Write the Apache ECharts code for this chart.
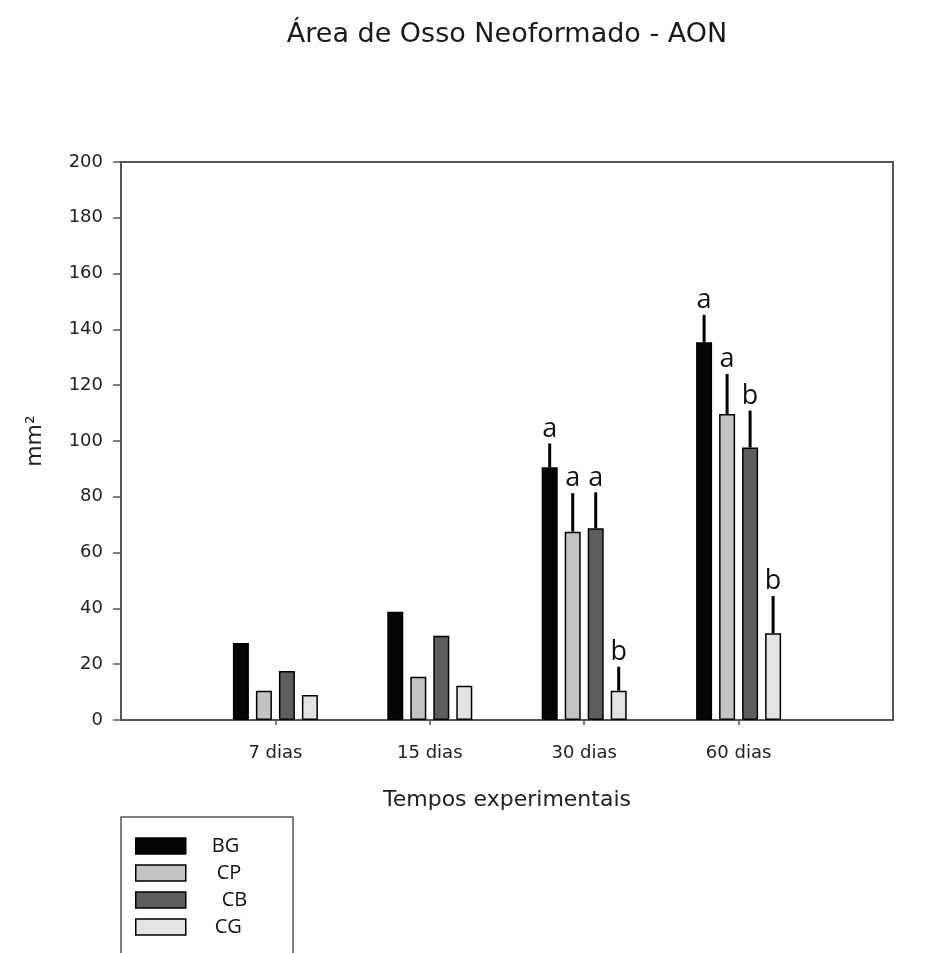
<!DOCTYPE html>
<html><head><meta charset="utf-8">
<script src="https://cdn.jsdelivr.net/npm/echarts@6/dist/echarts.min.js"></script>
<style>html,body{margin:0;padding:0;background:#fff}#c{width:952px;height:953px}</style>
</head><body><div id="c"></div>
<script>
// ---- data ----
const categories = ['7 dias', '15 dias', '30 dias', '60 dias'];
const seriesNames = ['BG', 'CP', 'CB', 'CG'];
const valBG = [27.6, 38.8, 90.6, 135.4];
const valCP = [10.5, 15.5, 67.5, 109.7];
const valCB = [17.6, 30.2, 68.7, 97.7];
const valCG = [9.0, 12.3, 10.5, 31.1];
const errBG = [null, null, 8.5, 9.8];
const errCP = [null, null, 13.8, 14.3];
const errCB = [null, null, 12.9, 13.2];
const errCG = [null, null, 8.6, 13.3];
const letBG = ['', '', 'a', 'a'];
const letCP = ['', '', 'a', 'a'];
const letCB = ['', '', 'a', 'b'];
const letCG = ['', '', 'b', 'b'];
const yMin = 0, yMax = 200, yStep = 20;

const allVals = [valBG, valCP, valCB, valCG];
const allErrs = [errBG, errCP, errCB, errCG];
const allLets = [letBG, letCP, letCB, letCG];
const fills = ['#050505', '#c3c3c3', '#5e5e5e', '#e3e3e3'];

const BAR_W = 16, GAP = 0.4375;
const PITCH = BAR_W * (1 + GAP);

// padded category axis so categories sit at positions 1..4 of 0..5
const axisCats = [''].concat(categories, ['']);

const errRows = [], errLetters = [];
allErrs.forEach((errs, si) => {
  errs.forEach((e, ci) => {
    if (e != null) {
      errRows.push([ci + 1, allVals[si][ci], e, si]);
      errLetters.push(allLets[si][ci]);
    }
  });
});

const barSeries = seriesNames.map((n, si) => ({
  name: n,
  type: 'bar',
  barWidth: BAR_W,
  barGap: (GAP * 100) + '%',
  data: ['-'].concat(allVals[si], ['-']),
  itemStyle: { color: fills[si], borderColor: '#000', borderWidth: 1.5 },
  z: 2
}));

const legendPad = [21, 26, 31, 24];

const chart = echarts.init(document.getElementById('c'), null, { renderer: 'canvas' });
chart.setOption({
  animation: false,
  backgroundColor: '#fff',
  title: {
    text: 'Área de Osso Neoformado - AON',
    left: 507, top: 21, textAlign: 'center', padding: 0,
    textStyle: { fontFamily: 'DejaVu Sans', fontSize: 27, fontWeight: 'normal', color: '#1a1a1a' }
  },
  grid: {
    left: 121, right: 59, top: 162, bottom: 233,
    show: true, borderColor: '#555', borderWidth: 2, backgroundColor: 'transparent'
  },
  legend: {
    orient: 'vertical', left: 135, top: 836, padding: 0,
    itemWidth: 50, itemHeight: 16, itemGap: 7, icon: 'rect',
    selectedMode: false,
    itemStyle: { borderColor: '#000', borderWidth: 1.5 },
    textStyle: { fontFamily: 'Open Sans', fontSize: 20, color: '#111' },
    data: seriesNames.map((n, i) => ({ name: n, textStyle: { padding: [0, 0, 0, legendPad[i]] } }))
  },
  graphic: [{
    type: 'rect', shape: { x: 121, y: 817, width: 172, height: 200 },
    style: { fill: 'none', stroke: '#555', lineWidth: 1.5 }, silent: true
  }],
  xAxis: {
    type: 'category',
    data: axisCats,
    boundaryGap: false,
    axisLine: { show: true, lineStyle: { color: '#555', width: 2 } },
    axisTick: { show: true, length: 5, interval: (i) => i > 0 && i < axisCats.length - 1, lineStyle: { color: '#555', width: 1.5 } },
    axisLabel: { interval: 0, margin: 24, fontFamily: 'DejaVu Sans', fontSize: 18, color: '#222' },
    splitLine: { show: false },
    name: 'Tempos experimentais', nameLocation: 'middle', nameGap: 69,
    nameTextStyle: { fontFamily: 'DejaVu Sans', fontSize: 22, color: '#222' }
  },
  yAxis: {
    type: 'value', min: yMin, max: yMax, interval: yStep,
    axisLine: { show: true, lineStyle: { color: '#555', width: 2 } },
    axisTick: { show: true, length: 8, inside: false, lineStyle: { color: '#555', width: 1.5 } },
    axisLabel: { margin: 18, fontFamily: 'DejaVu Sans', fontSize: 18, color: '#222' },
    splitLine: { show: false },
    name: 'mm²', nameLocation: 'middle', nameGap: 75, nameRotate: 90,
    nameTextStyle: { fontFamily: 'DejaVu Sans', fontSize: 22, color: '#222' }
  },
  series: barSeries.concat([{
    type: 'custom',
    name: 'err',
    data: errRows,
    encode: { x: 0, y: 1 },
    z: 5,
    silent: true,
    renderItem: function (params, api) {
      const ci = api.value(0), v = api.value(1), e = api.value(2), si = api.value(3);
      const base = api.coord([ci, v]);
      const top = api.coord([ci, v + e]);
      const x = base[0] + (si - 1.5) * PITCH;
      return {
        type: 'group',
        children: [
          { type: 'line', shape: { x1: x, y1: base[1], x2: x, y2: top[1] }, style: { stroke: '#000', lineWidth: 3 } },
          { type: 'text', style: { text: errLetters[params.dataIndex], x: x, y: top[1] - 1, align: 'center', verticalAlign: 'bottom', fontFamily: 'Open Sans', fontSize: 27, fill: '#111' } }
        ]
      };
    }
  }])
});
</script>
</body></html>
